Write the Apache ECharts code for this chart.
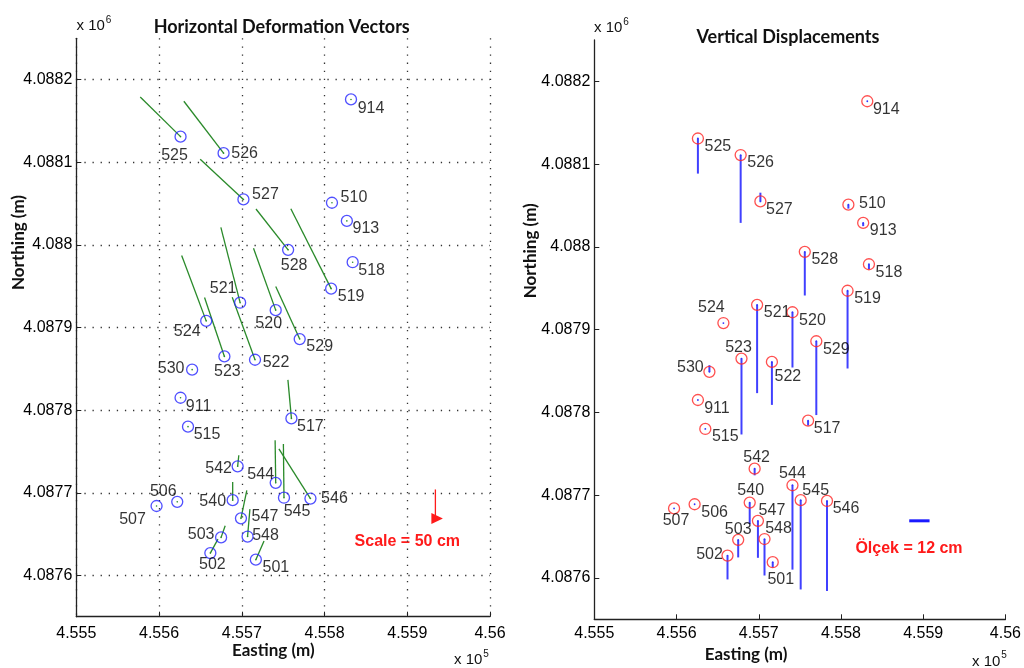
<!DOCTYPE html>
<html><head><meta charset="utf-8">
<script src="https://cdn.jsdelivr.net/npm/echarts@6/dist/echarts.min.js"></script>
<style>html,body{margin:0;padding:0;background:#fff}#c{width:1024px;height:668px}</style>
</head><body><div id="c"></div>
<script>
// ---------------- DATA ----------------
const stations = ['914','525','526','527','510','913','528','518','519','521','520','524','529','523','522','530','911','515','517','542','544','546','545','540','506','507','547','503','548','502','501'];
const easting  = [455832,455626,455678,455702,455809,455827,455756,455834,455808,455698,455741,455657,455770,455679,455716,455640,455626,455635,455760,455695,455741,455783,455751,455689,455622,455597,455699,455675,455707,455662,455717];
const northing = [4088176,4088131,4088111,4088055,4088051,4088029,4087994,4087979,4087947,4087930,4087921,4087908,4087886,4087865,4087861,4087849,4087815,4087780,4087790,4087732,4087712,4087693,4087694,4087691,4087689,4087684,4087669,4087646,4087647,4087627,4087619];
// horizontal displacement components (cm)
const dEast  = [0,-69,-68,-74,0,0,-55,0,-69,-33,-38,-42,-41,-34,-39,0,0,0,-6,2,-1,-54,-1,0,0,0,10,7,4,13,14];
const dNorth = [0,68,89,69,0,0,70,0,137,129,106,112,90,101,107,0,0,0,66,19,73,85,92,31,0,0,48,20,47,24,32];
// vertical displacement (cm)
const dUp = [0,-20.6,-39.8,5.1,-2.3,-1.9,-25.6,-2.9,-45.6,-51.8,-32.4,0,-43.3,-44.5,-25.2,3.9,0,0,-2.9,-3.9,-49.5,-52.8,-52.4,-12.6,0,0,-21.7,-10.3,-21.4,-14,-3.1];
const xTicks = [455500,455600,455700,455800,455900,456000];
const yTicks = [4087600,4087700,4087800,4087900,4088000,4088100,4088200];
const hScaleCm = 50;
const vScaleCm = 12;

// ---------------- STYLE ----------------
const H_SCALE = 0.706;  // map metres per cm (horizontal vectors)
const V_SCALE = 2.06;   // map metres per cm (vertical bars)
const FONT = "'Liberation Sans', Arial, sans-serif";
const TFONT = "Lato, sans-serif";
const leftOff = {'914':[20,9],'525':[-6,19],'526':[21,0],'527':[22,-5],'510':[22,-5],'913':[19,8],'528':[6,16],'518':[19,8],'519':[20,8],'521':[-17,-14],'520':[-7,13],'524':[-19,11],'529':[20,8],'523':[3,15],'522':[21,3],'530':[-21,-1],'911':[18,9],'515':[19,8],'517':[19,8],'542':[-19,2],'544':[-15,-8],'546':[24,0],'545':[13,14],'540':[-20,1],'506':[-14,-10],'507':[-24,14],'547':[24,-2],'503':[-20,-3],'548':[18,-1],'502':[2,12],'501':[20,8]};
const rightOff = {'914':[19,8],'525':[20,8],'526':[20,8],'527':[19,8],'510':[24,-1],'913':[20,8],'528':[20,8],'518':[20,8],'519':[20,8],'521':[20,8],'520':[20,8],'524':[-12,-15],'529':[20,8],'523':[-3,-11],'530':[-19,-4],'522':[16,15],'911':[19,9],'515':[20,8],'517':[19,8],'542':[2,-11],'544':[0,-12],'545':[15,-10],'546':[19,8],'540':[1,-12],'507':[2,12],'506':[20,8],'547':[14,-10],'503':[0,-10],'548':[14,-10],'502':[-18,-1],'501':[8,17]};

const fmtX = v => String(parseFloat((v/1e5).toFixed(5)));
const fmtY = v => String(parseFloat((v/1e6).toFixed(5)));

function xAxisCfg(gi, grid) {
  return {gridIndex: gi, type:'value', min:xTicks[0], max:xTicks[xTicks.length-1], interval:100,
    axisLine:{show:true,onZero:false,lineStyle:{color:'#222',width:1.3}},
    axisTick:{show:true,inside:true,length:5,lineStyle:{color:'#222',width:1}},
    axisLabel:{formatter:fmtX,fontSize:16,color:'#000',fontFamily:FONT,margin:gi===0?9:6,showMinLabel:true,showMaxLabel:true},
    splitLine:{show:grid,lineStyle:{type:[1.3,6.8],color:'#333',width:1.3}}};
}
function yAxisCfg(gi, grid) {
  return {gridIndex: gi, type:'value', min:4087550, max:4088250, splitNumber:7,
    axisLine:{show:true,onZero:false,lineStyle:{color:'#222',width:1.3}},
    axisTick:{show:true,inside:true,length:5,customValues:yTicks,lineStyle:{color:'#222',width:1}},
    axisLabel:{formatter:fmtY,customValues:yTicks,fontSize:16,color:'#000',fontFamily:FONT,margin:4},
    splitLine:{show:grid,lineStyle:{type:[1.3,6.8],color:'#333',width:1.3}}};
}

const vecData = stations.map((s,i)=>[easting[i],northing[i],dEast[i],dNorth[i]]);
const upData = stations.map((s,i)=>[easting[i],northing[i],dUp[i]]);

function scatterData(off) {
  return stations.map((s,i)=>({value:[easting[i],northing[i]],name:s,label:{offset:off[s]||[18,8]}}));
}

const chart = echarts.init(document.getElementById('c'));
chart.setOption({
  animation:false,
  backgroundColor:'#fff',
  grid:[
    {left:76.3, top:38.3, width:413.7, height:578.4},
    {left:594.3, top:40, width:414, height:579.3}
  ],
  xAxis:[xAxisCfg(0,true), xAxisCfg(1,false)],
  yAxis:[yAxisCfg(0,true), yAxisCfg(1,false)],
  series:[
    {type:'custom', xAxisIndex:0, yAxisIndex:0, clip:false, data:vecData, encode:{x:0,y:1}, z:2,
      renderItem:(params,api)=>{
        const e=api.value(0), n=api.value(1);
        const p0=api.coord([e,n]);
        const p1=api.coord([e+api.value(2)*H_SCALE, n+api.value(3)*H_SCALE]);
        return {type:'group',children:[
          {type:'line',shape:{x1:p0[0],y1:p0[1],x2:p1[0],y2:p1[1]},style:{stroke:'#2a8a2a',lineWidth:1.3}},
          {type:'circle',shape:{cx:p0[0],cy:p0[1],r:0.8},style:{fill:'#2a8a2a'}}
        ]};
      }},
    {type:'scatter', xAxisIndex:0, yAxisIndex:0, symbol:'circle', symbolSize:11, z:3,
      itemStyle:{color:'rgba(0,0,0,0)',borderColor:'#2424ff',borderWidth:1.3},
      label:{show:true,position:'inside',formatter:'{b}',fontSize:16,color:'#000',fontFamily:FONT},
      data:scatterData(leftOff)},
    {type:'custom', xAxisIndex:0, yAxisIndex:0, clip:false, data:[[455934,4087704,0,-hScaleCm]], encode:{x:0,y:1},
      renderItem:(params,api)=>{
        const e=api.value(0), n=api.value(1);
        const p0=api.coord([e,n]);
        const p1=api.coord([e+api.value(2)*H_SCALE, n+api.value(3)*H_SCALE]);
        return {type:'group',children:[
          {type:'line',shape:{x1:p0[0],y1:p0[1],x2:p1[0],y2:p1[1]},style:{stroke:'#ff1a1a',lineWidth:1.3}},
          {type:'polygon',shape:{points:[[p1[0]-4,p1[1]-5.5],[p1[0]-4,p1[1]+5.5],[p1[0]+7.5,p1[1]]]},style:{fill:'#ff1a1a'}}
        ]};
      }},
    {type:'custom', xAxisIndex:1, yAxisIndex:1, clip:false, data:upData, encode:{x:0,y:1}, z:2,
      renderItem:(params,api)=>{
        const e=api.value(0), n=api.value(1);
        const p0=api.coord([e,n]);
        const p1=api.coord([e, n+api.value(2)*V_SCALE]);
        return {type:'group',children:[
          {type:'line',shape:{x1:p0[0],y1:p0[1],x2:p1[0],y2:p1[1]},style:{stroke:'#4040ff',lineWidth:2}},
          {type:'circle',shape:{cx:p0[0],cy:p0[1],r:0.9},style:{fill:'#3030ff'}}
        ]};
      }},
    {type:'scatter', xAxisIndex:1, yAxisIndex:1, symbol:'circle', symbolSize:11, z:3,
      itemStyle:{color:'rgba(0,0,0,0)',borderColor:'#ff2424',borderWidth:1.3},
      label:{show:true,position:'inside',formatter:'{b}',fontSize:16,color:'#000',fontFamily:FONT},
      data:scatterData(rightOff)},
    {type:'custom', xAxisIndex:1, yAxisIndex:1, clip:false, data:[[455883,4087669,vScaleCm]], encode:{x:0,y:1},
      renderItem:(params,api)=>{
        const e=api.value(0), n=api.value(1);
        const p0=api.coord([e,n]);
        const p1=api.coord([e+api.value(2)*V_SCALE, n]);
        return {type:'line',shape:{x1:p0[0],y1:p0[1],x2:p1[0],y2:p1[1]},style:{stroke:'#1a1aff',lineWidth:3}};
      }}
  ],
  graphic:[
    {type:'text',x:281.7,y:26.7,style:{text:'Horizontal Deformation Vectors',font:'bold 18px '+TFONT,fill:'#111',align:'center',verticalAlign:'middle'}},
    {type:'text',x:788,y:36.7,style:{text:'Vertical Displacements',font:'bold 18px '+TFONT,fill:'#111',align:'center',verticalAlign:'middle'}},
    {type:'text',x:273.3,y:651,style:{text:'Easting (m)',font:'bold 17px '+TFONT,fill:'#111',align:'center',verticalAlign:'middle'}},
    {type:'text',x:746,y:655,style:{text:'Easting (m)',font:'bold 17px '+TFONT,fill:'#111',align:'center',verticalAlign:'middle'}},
    {type:'text',x:19,y:242.5,rotation:Math.PI/2,style:{text:'Northing (m)',font:'bold 17px '+TFONT,fill:'#111',align:'center',verticalAlign:'middle'}},
    {type:'text',x:531,y:250.8,rotation:Math.PI/2,style:{text:'Northing (m)',font:'bold 17px '+TFONT,fill:'#111',align:'center',verticalAlign:'middle'}},
    {type:'text',x:76.5,y:26,style:{text:'x 10{s|6}',font:'15px '+FONT,fill:'#111',verticalAlign:'middle',rich:{s:{fontSize:10,fontFamily:FONT,padding:[0,0,12,1],fill:'#111'}}}},
    {type:'text',x:594,y:28,style:{text:'x 10{s|6}',font:'15px '+FONT,fill:'#111',verticalAlign:'middle',rich:{s:{fontSize:10,fontFamily:FONT,padding:[0,0,12,1],fill:'#111'}}}},
    {type:'text',x:454,y:660,style:{text:'x 10{s|5}',font:'15px '+FONT,fill:'#111',verticalAlign:'middle',rich:{s:{fontSize:10,fontFamily:FONT,padding:[0,0,12,1],fill:'#111'}}}},
    {type:'text',x:972,y:661.5,style:{text:'x 10{s|5}',font:'15px '+FONT,fill:'#111',verticalAlign:'middle',rich:{s:{fontSize:10,fontFamily:FONT,padding:[0,0,12,1],fill:'#111'}}}},
    {type:'text',x:407.3,y:542,style:{text:'Scale = '+hScaleCm+' cm',font:'bold 16px '+FONT,fill:'#ff1a1a',align:'center',verticalAlign:'middle'}},
    {type:'text',x:909,y:548.3,style:{text:'Ölçek = '+vScaleCm+' cm',font:'bold 16px '+FONT,fill:'#ff1a1a',align:'center',verticalAlign:'middle'}}
  ]
});
</script></body></html>
